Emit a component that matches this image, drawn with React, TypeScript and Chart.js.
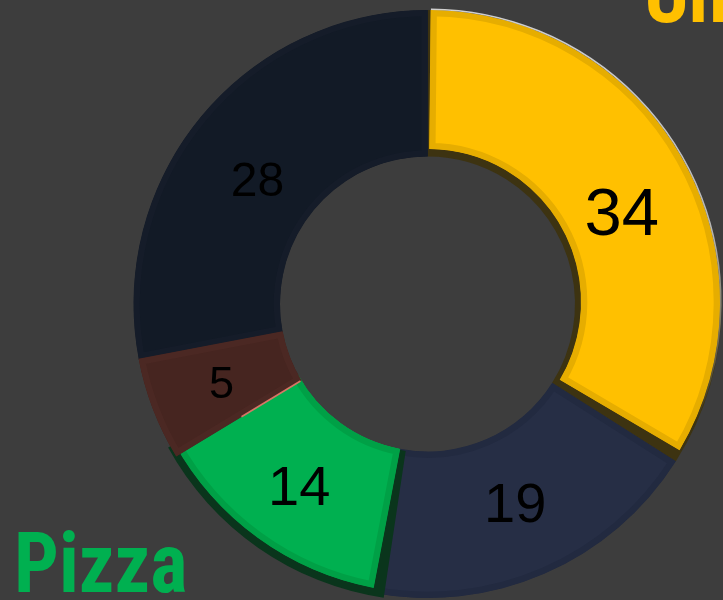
import React, { useEffect, useRef } from "react";
import { Chart, registerables } from "chart.js";

Chart.register(...registerables);

// ---- data ----
const categories = ["Unagi", "Sushi", "Pizza", "Tacos", "Ramen"];
const values = [34, 19, 14, 5, 28];
const calloutPizza = "Pizza";
const calloutTop = "Unagi";

// ---- styles ----
const BG = "#3d3d3d";
const sliceColors = ["#ffc000", "#262e45", "#00b050", "#462520", "#121a26"];
const bandColors = ["#e6ad00", "#222a40", "#00a046", "#4b2823", "#151c29"];
// slice "bevel" tweaks: [dx, dy, dInner, dOuter, dStartAngle, dEndAngle]
const sliceTweaks = [
  [0.5, -2, 5.5, -2, 0.01, -0.034],
  [0, 0, 0, 0, 0, 0],
  [0, 0, 0, -5, 0, 0],
  [0, 0, 0, 0, -0.042, 0],
  [0, 0, 0, 0, 0, 0],
];
const shadowColors = ["#3d3311", null, "#0a351c", null, null];
const shadowTweaks = [
  [0, 0, 0, 0, 0, 0],
  [0, 0, 0, 0, 0, 0],
  [0, 1, 0, 2, -0.04, 0],
  [0, 0, 0, 0, 0, 0],
  [0, 0, 0, 0, 0, 0],
];
const labelSizes = [67, 56, 56, 45, 48];
const labelNudgeY = [24, 0, 9, 2, 19];

function arcPath(ctx: CanvasRenderingContext2D, g: any) {
  ctx.beginPath();
  ctx.arc(g.x, g.y, g.outerRadius, g.startAngle, g.endAngle);
  ctx.arc(g.x, g.y, g.innerRadius, g.endAngle, g.startAngle, true);
  ctx.closePath();
}

function tweak(g: any, t: number[]) {
  return {
    x: g.x + t[0],
    y: g.y + t[1],
    innerRadius: g.innerRadius + t[2],
    outerRadius: g.outerRadius + t[3],
    startAngle: g.startAngle + t[4],
    endAngle: g.endAngle + t[5],
  };
}

const effectsPlugin = {
  id: "bevelEffects",
  afterDatasetsUpdate(chart: any) {
    const arcs = chart.getDatasetMeta(0).data;
    chart.$base = arcs.map((a: any) => ({
      x: a.x,
      y: a.y,
      innerRadius: a.innerRadius,
      outerRadius: a.outerRadius,
      startAngle: a.startAngle,
      endAngle: a.endAngle,
    }));
    arcs.forEach((a: any, i: number) => {
      const g = tweak(chart.$base[i], sliceTweaks[i]);
      Object.assign(a, g);
      a.circumference = g.endAngle - g.startAngle;
    });
  },
  beforeDatasetsDraw(chart: any) {
    const ctx = chart.ctx as CanvasRenderingContext2D;
    const base = chart.$base;
    if (!base) return;
    ctx.save();
    if (shadowColors[0]) {
      arcPath(ctx, tweak(base[0], shadowTweaks[0]));
      ctx.fillStyle = shadowColors[0] as string;
      ctx.fill();
    }
    ctx.restore();
  },
  afterDatasetsDraw(chart: any) {
    const ctx = chart.ctx as CanvasRenderingContext2D;
    const base = chart.$base;
    const arcs = chart.getDatasetMeta(0).data;
    if (!base) return;
    ctx.save();
    if (shadowColors[2]) {
      arcPath(ctx, tweak(base[2], shadowTweaks[2]));
      ctx.fillStyle = shadowColors[2] as string;
      ctx.fill();
    }
    ctx.restore();
    arcs[2].draw(ctx);
    arcs[3].draw(ctx);

    // salmon edge between brown and green
    ctx.save();
    const b = arcs[3];
    const a0 = b.startAngle;
    ctx.beginPath();
    ctx.moveTo(b.x + Math.cos(a0) * (b.innerRadius + 1), b.y + Math.sin(a0) * (b.innerRadius + 1));
    ctx.lineTo(b.x + Math.cos(a0) * (b.innerRadius + 70), b.y + Math.sin(a0) * (b.innerRadius + 70));
    ctx.strokeStyle = "rgba(232,124,108,0.9)";
    ctx.lineWidth = 1.6;
    ctx.stroke();
    ctx.restore();

    // light rim on yellow outer edge
    ctx.save();
    const y0 = arcs[0];
    const grad = ctx.createLinearGradient(0, 0, 0, 420);
    grad.addColorStop(0, "rgba(225,225,225,0.9)");
    grad.addColorStop(0.55, "rgba(225,225,225,0.75)");
    grad.addColorStop(1, "rgba(225,225,225,0)");
    ctx.beginPath();
    ctx.arc(y0.x, y0.y, y0.outerRadius + 0.8, y0.startAngle, y0.endAngle);
    ctx.strokeStyle = grad;
    ctx.lineWidth = 1.6;
    ctx.stroke();
    ctx.restore();

    // value labels
    ctx.save();
    ctx.textAlign = "center";
    ctx.textBaseline = "middle";
    ctx.fillStyle = "#000000";
    arcs.forEach((a: any, i: number) => {
      const mid = (a.startAngle + a.endAngle) / 2;
      const r = (a.innerRadius + a.outerRadius) / 2;
      const x = a.x + Math.cos(mid) * r;
      const y = a.y + Math.sin(mid) * r + labelNudgeY[i];
      ctx.font = `${labelSizes[i]}px "Liberation Sans", Arial, sans-serif`;
      ctx.fillText(String(values[i]), x, y);
    });
    ctx.restore();
  },
};

export default function App() {
  const ref = useRef<HTMLCanvasElement>(null);
  useEffect(() => {
    const canvas = ref.current;
    if (!canvas) return;
    const chart = new Chart(canvas, {
      type: "doughnut",
      data: {
        labels: categories,
        datasets: [
          {
            data: values,
            backgroundColor: sliceColors,
            borderColor: bandColors,
            borderWidth: 6,
            borderAlign: "inner",
            borderJoinStyle: "miter",
            hoverOffset: 0,
            clip: false,
          } as any,
        ],
      },
      options: {
        responsive: false,
        maintainAspectRatio: false,
        devicePixelRatio: 1,
        animation: false,
        events: [],
        radius: 294,
        cutout: "50.17%",
        layout: { padding: { left: 132, right: 0, top: 8, bottom: 0 } },
        plugins: {
          legend: { display: false },
          tooltip: { enabled: false },
          title: { display: false },
        },
      } as any,
      plugins: [effectsPlugin as any],
    });
    return () => chart.destroy();
  }, []);

  const calloutFont = '"Liberation Sans Narrow", "Arial Narrow", "Roboto Condensed", sans-serif';

  return (
    <div
      style={{
        position: "fixed",
        left: 0,
        top: 0,
        width: 723,
        height: 600,
        background: BG,
        overflow: "hidden",
      }}
    >
      <canvas
        ref={ref}
        width={723}
        height={600}
        style={{ position: "absolute", left: 0, top: 0, width: 723, height: 600, display: "block" }}
      />
      <div
        style={{
          position: "absolute",
          left: 14,
          top: 522,
          fontFamily: calloutFont,
          fontWeight: 700,
          fontSize: 84,
          lineHeight: "84px",
          color: "#00b050",
          whiteSpace: "nowrap",
          transform: "scaleX(0.94)",
          transformOrigin: "left top",
        }}
      >
        {calloutPizza}
      </div>
      <div
        style={{
          position: "absolute",
          left: 644,
          top: -48,
          fontFamily: calloutFont,
          fontWeight: 700,
          fontSize: 84,
          lineHeight: "84px",
          color: "#ffc000",
          whiteSpace: "nowrap",
          transform: "scaleX(0.94)",
          transformOrigin: "left top",
        }}
      >
        {calloutTop}
      </div>
    </div>
  );
}
